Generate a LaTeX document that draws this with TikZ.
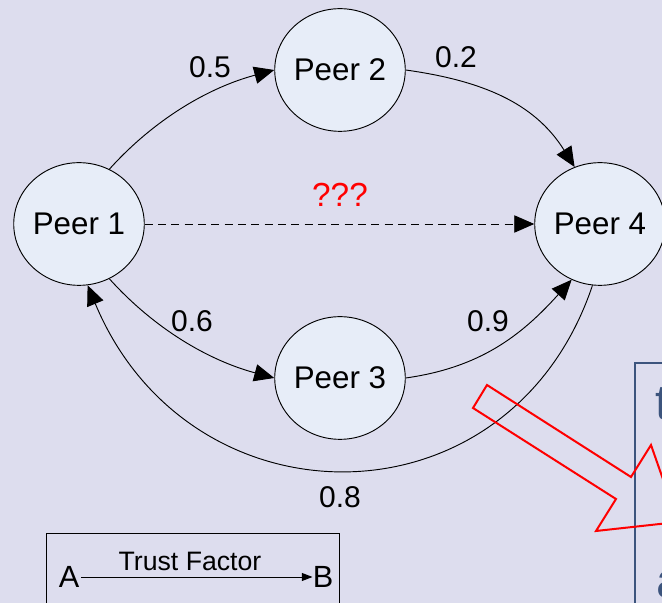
\documentclass[tikz,border=0pt]{standalone}
\usepackage{fontspec}
\setmainfont{Liberation Sans}
\usetikzlibrary{arrows.meta,shapes.geometric}

\definecolor{bgcol}{RGB}{221,221,238}
\definecolor{peerfill}{RGB}{231,237,248}
\definecolor{framecol}{RGB}{60,84,125}

\tikzset{
  peer/.style={ellipse, draw=black, line width=0.7pt, fill=peerfill,
    minimum width=97.5pt, minimum height=92pt, inner sep=0pt,
    font=\fontsize{23.5}{27}\selectfont},
  trust/.style={line width=0.7pt, -{Triangle[length=15pt,width=13pt]}},
  weight/.style={font=\fontsize{22.5}{26}\selectfont, inner sep=0pt},
  unknown/.style={line width=0.7pt, dash pattern=on 6pt off 4pt,
    -{Triangle[length=15pt,width=13pt]}},
}

\begin{document}
\begin{tikzpicture}[x=0.75pt, y=0.75pt]
  \fill[bgcol] (0,0) rectangle (662,603);
  \useasboundingbox (0,0) rectangle (662,603);
  \clip (0,0) rectangle (662,603);

  % peers
  \node[peer] (p1) at (79,379) {Peer 1};
  \node[peer] (p2) at (340,533) {Peer 2};
  \node[peer] (p3) at (340,225) {Peer 3};
  \node[peer] (p4) at (600,379) {Peer 4};

  % trust relations
  \draw[trust] (p1.61) to[out=48, in=195, looseness=0.9] (p2.west);
  \draw[trust] (p2.east) to[out=-8, in=122] (p4.114);
  \draw[trust] (p1.-61) to[out=-48, in=165, looseness=0.9] (p3.west);
  \draw[trust] (p3.east) to[out=8, in=228] (p4.243);
  \draw[trust] (p4.263) .. controls (510,72) and (190,72) .. (p1.278);
  \draw[unknown] (p1.east) -- (p4.west);

  % weights
  \node[weight] (w12) at (210,536) {0.5};
  \node[weight] (w24) at (456,546) {0.2};
  \node[weight] (w13) at (192,282) {0.6};
  \node[weight] (w34) at (488,282) {0.9};
  \node[weight] (w41) at (340,106) {0.8};
  \node[weight, text=red, font=\fontsize{25}{28}\selectfont] (q) at (340,408) {???};

  % legend
  \draw[line width=0.7pt] (46,70) rectangle (339,-10);
  \node[font=\fontsize{23}{26}\selectfont, inner sep=0pt] (la) at (69,26) {A};
  \node[font=\fontsize{23}{26}\selectfont, inner sep=0pt] (lb) at (323,26) {B};
  \draw[line width=0.7pt, -{Triangle[length=8pt,width=6pt]}] (la.east) ++(2,0) coordinate (lstart) -- (lstart -| lb.west) ;
  \node[font=\fontsize{20}{24}\selectfont, inner sep=0pt] (lt) at (190,42) {Trust Factor};

  % side panel
  \draw[framecol, line width=1.6pt] (635,240) rectangle (720,-20);
  \node[framecol, anchor=base west, inner sep=0pt, font=\fontsize{37}{40}\selectfont] (tt) at (655,183) {t};
  \node[framecol, anchor=base west, inner sep=0pt, font=\fontsize{37}{40}\selectfont] (ta) at (656,5) {a};

  % hollow callout arrow
  \draw[red, line width=1.5pt, line join=miter]
    (487,218) -- (631,126) -- (651,158) -- (678,81) -- (596,72) -- (616,104) -- (473,195) -- cycle;
\end{tikzpicture}
\end{document}
